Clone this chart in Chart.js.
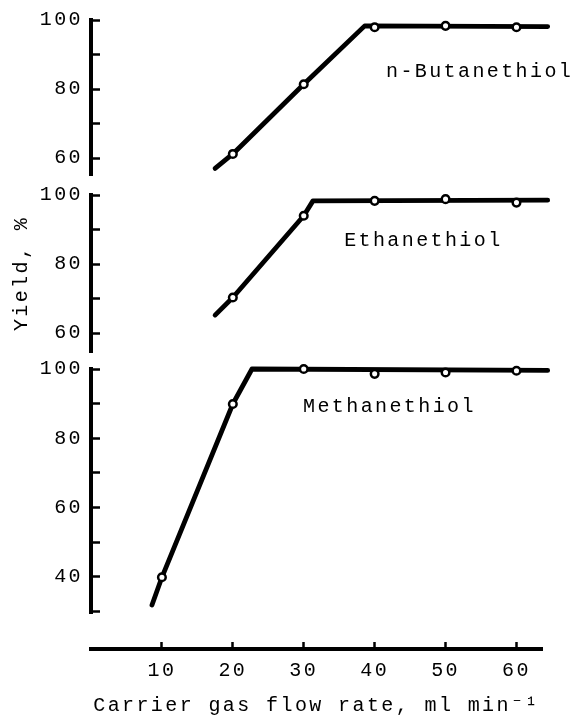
<!DOCTYPE html>
<html lang="en">
<head>
  <meta charset="UTF-8">
  <title>Yield vs carrier gas flow rate</title>
  <script src="https://cdn.jsdelivr.net/npm/chart.js"></script>
  <style>
    html, body { margin: 0; padding: 0; background: #fff; }
    canvas { display: block; }
  </style>
</head>
<body>
  <canvas id="yieldChart" width="573" height="715"></canvas>
  <script>
    // panel names, top to bottom
    const thiols = ['n-Butanethiol', 'Ethanethiol', 'Methanethiol'];

    // measured yields (open circles)
    const butX = [20, 30, 40, 50, 60];
    const butY = [61.2, 81.4, 97.9, 98.3, 97.9];
    const ethX = [20, 30, 40, 50, 60];
    const ethY = [70.3, 94.0, 98.3, 98.8, 97.8];
    const metX = [10, 20, 30, 40, 50, 60];
    const metY = [39.9, 89.9, 100, 98.6, 99.0, 99.5];

    // hand drawn curves, vertices
    const butLineX = [17.5, 20, 30, 38.6, 64.4];
    const butLineY = [57.0, 61.2, 81.4, 98.3, 98.1];
    const ethLineX = [17.5, 20, 30, 31.3, 64.4];
    const ethLineY = [65.2, 70.3, 94.0, 98.3, 98.5];
    const metLineX = [8.6, 10, 20, 22.7, 64.4];
    const metLineY = [31.9, 39.9, 89.9, 100, 99.6];

    const toXY = (xs, ys) => xs.map((x, i) => ({ x: x, y: ys[i] }));

    // where the panel names sit, in data units
    const labelSpots = [
      { axis: 'yTop', x: 41.6, y: 84.9 },
      { axis: 'yMid', x: 35.7, y: 86.8 },
      { axis: 'yBot', x: 29.9, y: 89.0 }
    ];

    Chart.defaults.font.family = "'Liberation Mono', 'Courier New', monospace";
    Chart.defaults.font.size = 20;
    Chart.defaults.color = '#000';

    function curve(xs, ys, axis) {
      return {
        data: toXY(xs, ys), yAxisID: axis, order: 2,
        borderColor: '#000', borderWidth: 4.8, pointRadius: 0,
        borderJoinStyle: 'round', borderCapStyle: 'round', clip: false
      };
    }
    function dots(xs, ys, axis) {
      return {
        data: toXY(xs, ys), yAxisID: axis, order: 1, showLine: false,
        pointRadius: 3.8, pointBorderWidth: 2.5,
        pointBackgroundColor: '#fff', pointBorderColor: '#000', clip: false
      };
    }

    // fixed width, and no label overhang pushing the plot area down
    function fitLeft(s) {
      s.width = 91;
      s.paddingTop = 0;
      s.paddingBottom = 0;
    }

    function panel(min, weight, stackWeight, title) {
      return {
        type: 'linear', position: 'left', stack: 'yield', weight: weight, stackWeight: stackWeight,
        min: min, max: 100,
        afterFit: fitLeft,
        border: { display: true, width: 4, color: '#000' },
        grid: { drawOnChartArea: false, drawTicks: true, tickLength: -9, tickWidth: 2.5, tickColor: '#000' },
        ticks: {
          stepSize: 10, includeBounds: false, autoSkip: false, padding: 17,
          callback: v => (v % 20 === 0 ? v : '')
        },
        title: { display: !!title, text: title || '', padding: { top: 10, bottom: 0 } }
      };
    }
    function spacer(weight, stackWeight) {
      return {
        type: 'linear', position: 'left', stack: 'yield', weight: weight, stackWeight: stackWeight,
        afterFit: fitLeft,
        border: { display: false }, grid: { display: false }, ticks: { display: false }
      };
    }

    const labelPlugin = {
      id: 'thiolLabels',
      beforeDraw(chart) {
        chart.ctx.letterSpacing = '2.4px';
      },
      afterDatasetsDraw(chart) {
        const ctx = chart.ctx;
        ctx.save();
        ctx.font = "20px 'Liberation Mono'";
        ctx.fillStyle = '#000';
        ctx.textAlign = 'left';
        ctx.textBaseline = 'middle';
        labelSpots.forEach((s, i) => {
          ctx.fillText(thiols[i], chart.scales.x.getPixelForValue(s.x), chart.scales[s.axis].getPixelForValue(s.y));
        });
        ctx.restore();
      }
    };

    new Chart(document.getElementById('yieldChart'), {
      type: 'line',
      data: {
        datasets: [
          dots(butX, butY, 'yTop'), dots(ethX, ethY, 'yMid'), dots(metX, metY, 'yBot'),
          curve(butLineX, butLineY, 'yTop'), curve(ethLineX, ethLineY, 'yMid'), curve(metLineX, metLineY, 'yBot')
        ]
      },
      options: {
        responsive: false,
        animation: false,
        layout: { padding: { top: 20, right: 31, bottom: 0, left: 0 } },
        plugins: { legend: { display: false }, tooltip: { enabled: false } },
        scales: {
          x: {
            type: 'linear', position: 'bottom', min: 0, max: 63.6,
            afterFit: s => { s.height = 66; },
            border: { display: true, width: 4, color: '#000' },
            grid: {
              drawOnChartArea: false, drawTicks: true, tickLength: -7, tickWidth: 2.5,
              tickColor: c => (c.tick && c.tick.value === 0 ? 'rgba(0,0,0,0)' : '#000')
            },
            ticks: {
              stepSize: 10, includeBounds: false, autoSkip: false, padding: 17, maxRotation: 0,
              callback: v => (v === 0 ? '' : v)
            },
            title: { display: true, text: 'Carrier gas flow rate, ml min\u207B\u00B9', padding: { top: 0, bottom: -3 } }
          },
          yTop: panel(55.1, 6, 155),
          gap1: spacer(5, 20),
          yMid: panel(54.5, 4, 157, 'Yield, %'),
          gap2: spacer(3, 17),
          yBot: panel(29.6, 2, 244),
          gap3: spacer(1, 36)
        }
      },
      plugins: [labelPlugin]
    });
  </script>
</body>
</html>
